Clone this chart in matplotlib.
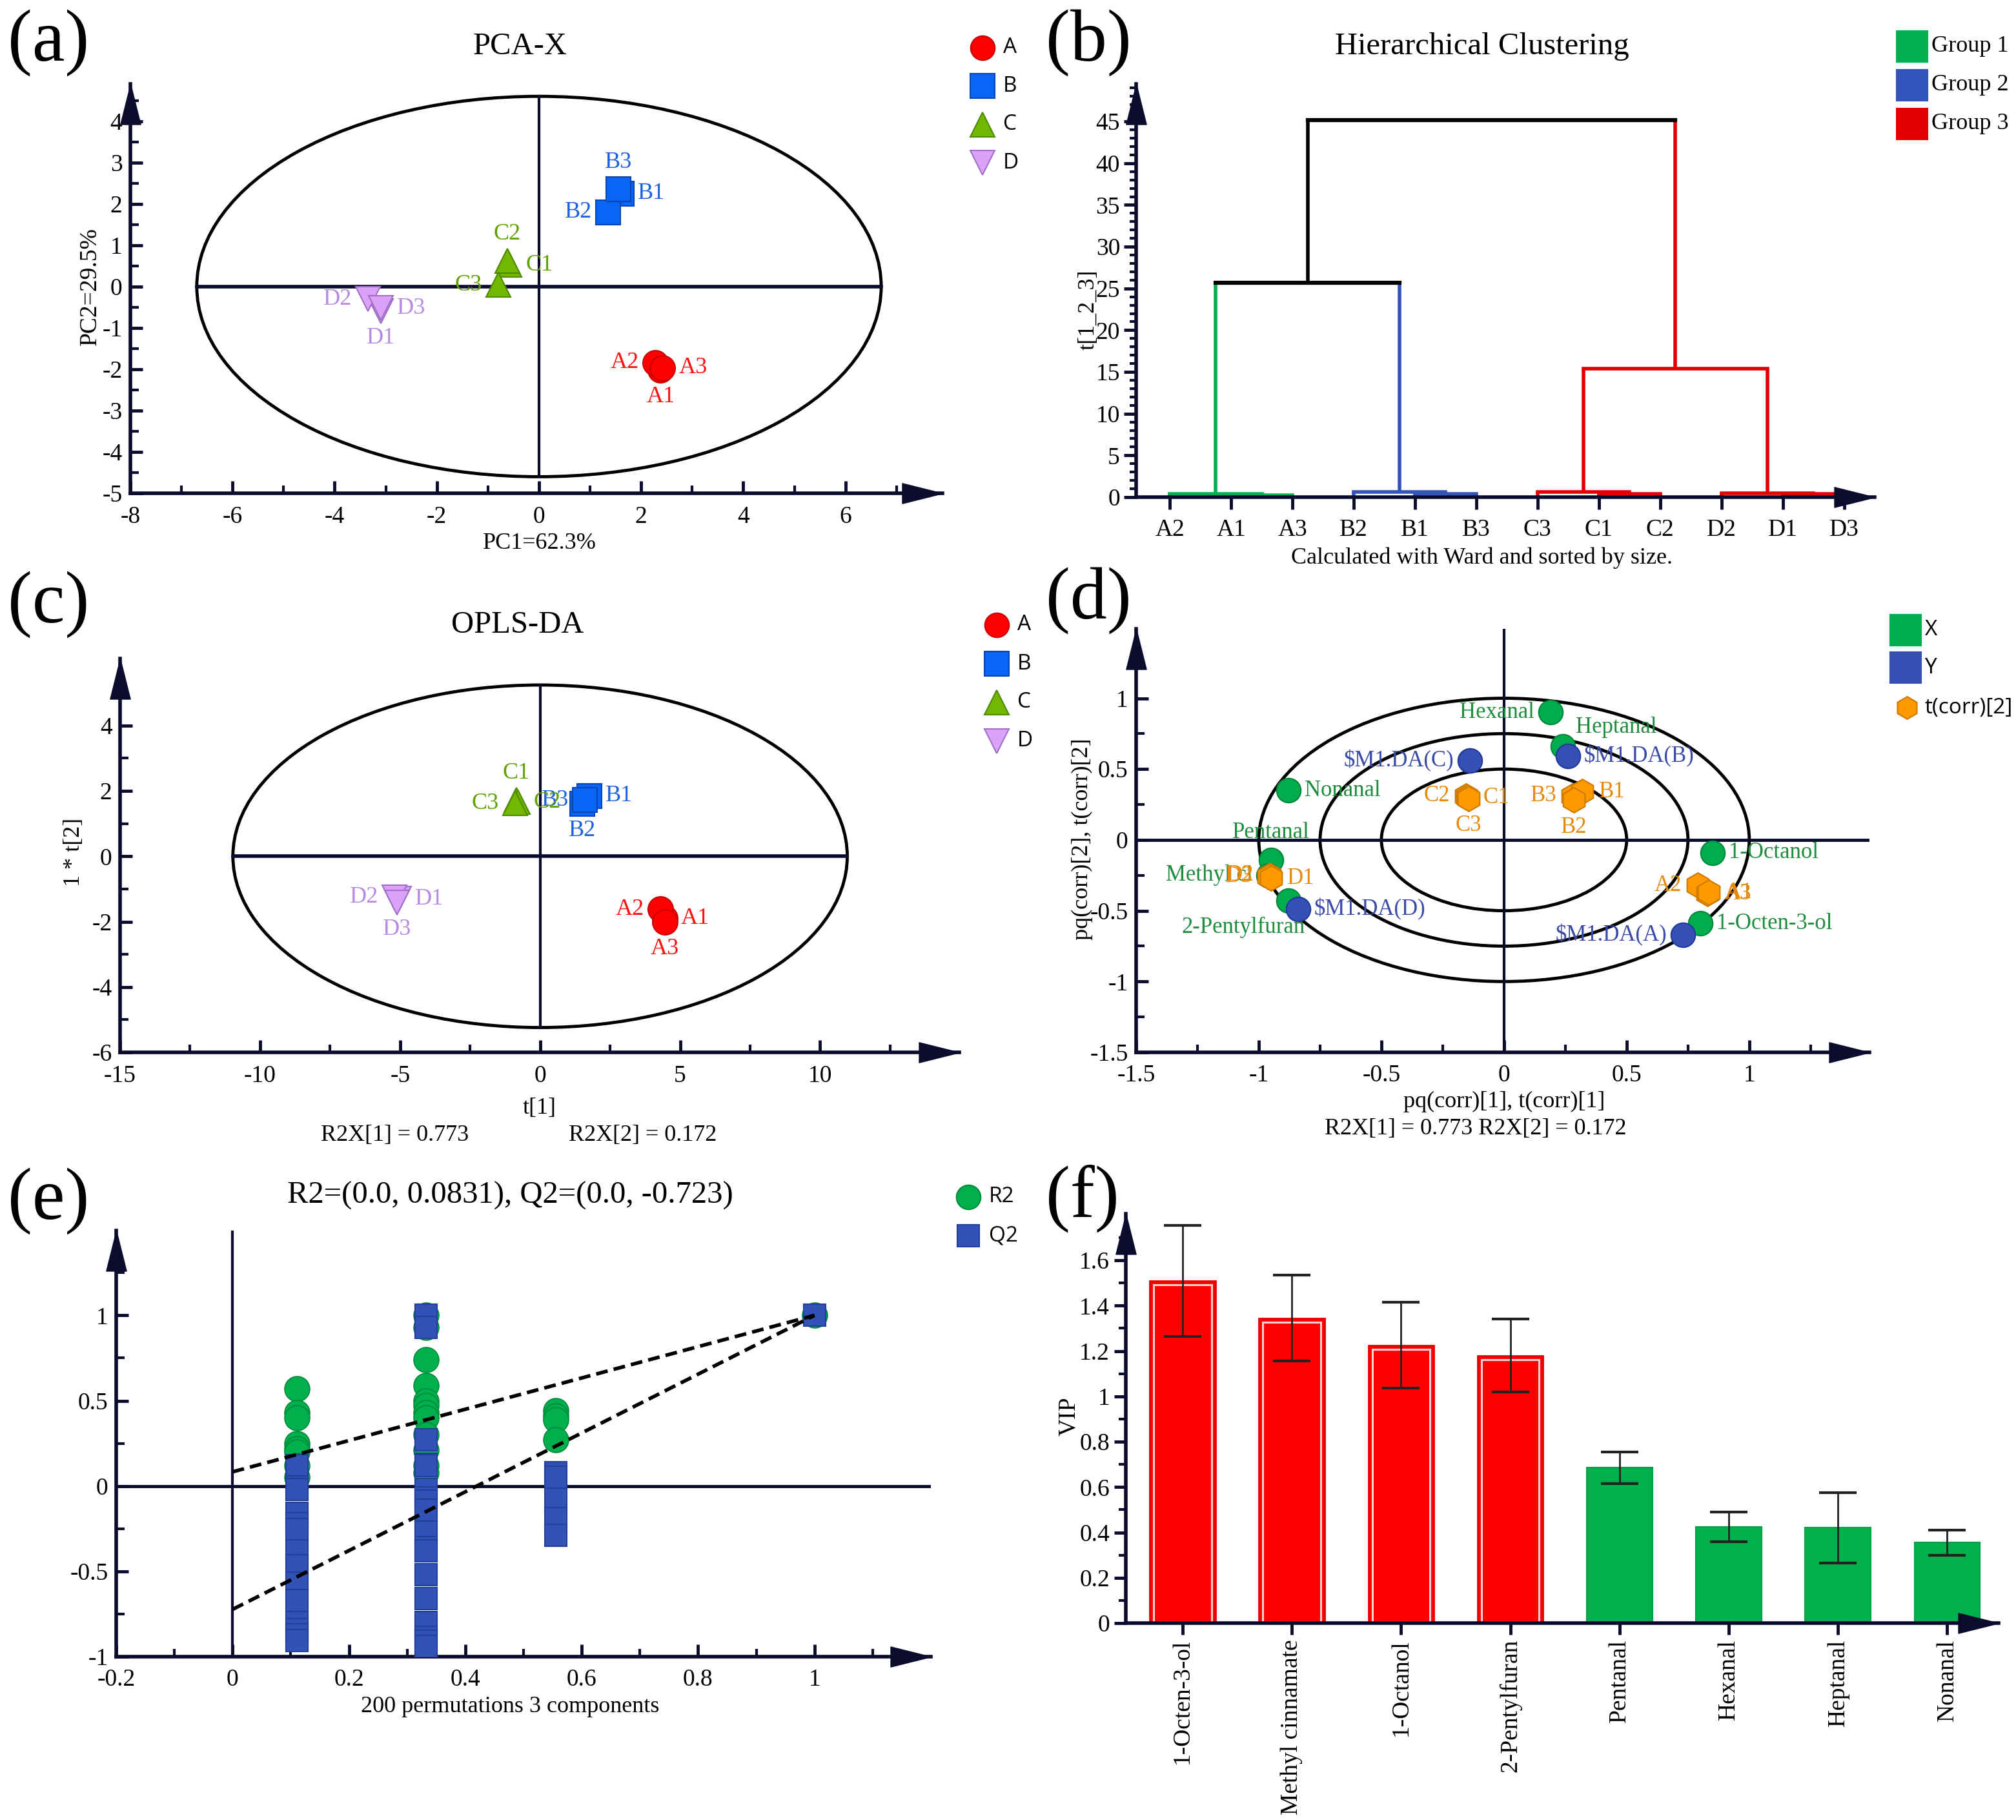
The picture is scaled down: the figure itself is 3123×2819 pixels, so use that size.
import numpy as np
import matplotlib
matplotlib.use('Agg')
import matplotlib.pyplot as plt
from matplotlib.patches import Ellipse
from matplotlib.lines import Line2D
from matplotlib.path import Path
from matplotlib.ticker import FixedLocator, FuncFormatter

# ======================= DATA =======================
# (a) PCA-X scores
pca_labels = ['A1', 'A2', 'A3', 'B1', 'B2', 'B3', 'C1', 'C2', 'C3', 'D1', 'D2', 'D3']
pca_t1 = [2.38, 2.27, 2.42, 1.62, 1.35, 1.55, -0.58, -0.62, -0.80, -3.10, -3.35, -3.10]
pca_t2 = [-2.02, -1.84, -1.97, 2.25, 1.80, 2.35, 0.52, 0.62, 0.04, -0.60, -0.30, -0.52]
pca_lab_side = ['b', 'l', 'r', 'r', 'l', 'a', 'r', 'a', 'l', 'b', 'l', 'r']
pca_ellipse = (6.7, 4.6)

# (b) hierarchical clustering
leaves = ['A2', 'A1', 'A3', 'B2', 'B1', 'B3', 'C3', 'C1', 'C2', 'D2', 'D1', 'D3']
merges = [('A1', 'A3', 0.25), ('A2', 'm0', 0.40),
          ('B1', 'B3', 0.35), ('B2', 'm2', 0.60),
          ('C1', 'C2', 0.35), ('C3', 'm4', 0.60),
          ('D1', 'D3', 0.35), ('D2', 'm6', 0.50),
          ('m1', 'm3', 25.7), ('m5', 'm7', 15.4), ('m8', 'm9', 45.2)]
merge_group = [1, 1, 2, 2, 3, 3, 3, 3, 0, 3, 0]
leaf_group = {'A': 1, 'B': 2, 'C': 3, 'D': 3}

# (c) OPLS-DA scores
opls_labels = ['A1', 'A2', 'A3', 'B1', 'B2', 'B3', 'C1', 'C2', 'C3', 'D1', 'D2', 'D3']
opls_t1 = [4.45, 4.30, 4.45, 1.75, 1.50, 1.60, -0.85, -0.80, -0.90, -5.05, -5.20, -5.10]
opls_t2 = [-1.90, -1.62, -2.00, 1.85, 1.60, 1.72, 1.72, 1.66, 1.62, -1.30, -1.25, -1.42]
opls_lab_side = ['r', 'l', 'b', 'r', 'b', 'l', 'a', 'r', 'l', 'r', 'l', 'b']
opls_ellipse = (10.97, 5.24)

# (d) biplot
var_names = ['Hexanal', 'Heptanal', 'Nonanal', 'Pentanal', 'Methyl ci', '2-Pentylfuran',
             '1-Octanol', '1-Octen-3-ol']
var_p1 = [0.19, 0.24, -0.88, -0.95, -0.96, -0.88, 0.85, 0.80]
var_p2 = [0.90, 0.66, 0.35, -0.14, -0.25, -0.43, -0.09, -0.59]
var_side = ['l', 'ar', 'r', 'a', 'l', 'bl', 'r', 'r']
y_names = ['$M1.DA(C)', '$M1.DA(B)', '$M1.DA(D)', '$M1.DA(A)']
y_p1 = [-0.14, 0.26, -0.84, 0.73]
y_p2 = [0.56, 0.59, -0.49, -0.67]
y_side = ['l', 'r', 'r', 'l']
tc_names = ['C2', 'C1', 'C3', 'B3', 'B1', 'B2', 'D2', 'D3', 'D1', 'A2', 'A3', 'A1']
tc_1 = [-0.155, -0.15, -0.145, 0.28, 0.32, 0.285, -0.955, -0.96, -0.95, 0.79, 0.83, 0.835]
tc_2 = [0.31, 0.30, 0.29, 0.31, 0.34, 0.28, -0.25, -0.26, -0.27, -0.32, -0.38, -0.37]
tc_side = ['l', 'r', 'b', 'l', 'r', 'b', 'l', 'l', 'r', 'l', 'r', 'r']
circle_radii = [0.5, 0.75, 1.0]

# (e) permutation test
perm_corr = [0.111, 0.333, 0.556]
r2_perm = [[0.57, 0.43, 0.40, 0.25, 0.22, 0.20, 0.12, 0.05],
           [1.0, 0.93, 0.74, 0.59, 0.50, 0.47, 0.43, 0.40, 0.30, 0.21, 0.12, 0.08],
           [0.44, 0.41, 0.39, 0.27]]
q2_perm = [[0.12, -0.006, -0.02, -0.16, -0.22, -0.255, -0.38, -0.465, -0.57, -0.67, -0.80,
            -0.84, -0.87, -0.905],
           [1.0, 0.93, 0.27, 0.127, 0.12, -0.02, -0.07, -0.09, -0.14, -0.27, -0.36, -0.38,
            -0.52, -0.66, -0.80, -0.885, -0.91, -0.94],
           [0.08, 0.05, -0.076, -0.19, -0.29]]
r2_orig, q2_orig = 1.0, 1.0
r2_intercept, q2_intercept = 0.0831, -0.723

# (f) VIP
vip_names = ['1-Octen-3-ol', 'Methyl cinnamate', '1-Octanol', '2-Pentylfuran',
             'Pentanal', 'Hexanal', 'Heptanal', 'Nonanal']
vip_mean = [1.51, 1.345, 1.225, 1.18, 0.685, 0.425, 0.42, 0.355]
vip_err = [0.245, 0.19, 0.19, 0.16, 0.07, 0.065, 0.155, 0.055]

# ======================= STYLE =======================
W, H = 3123, 2819
plt.rcParams['font.family'] = ['Liberation Serif', 'DejaVu Serif']
plt.rcParams['axes.unicode_minus'] = False
SANS = ['Open Sans', 'DejaVu Sans']
NAVY = '#0b0b2e'
fig = plt.figure(figsize=(W / 100, H / 100), dpi=100)


def fx(x):
    return 2 * x / W


def fy(y):
    return 1 - 2 * y / H


def add_axes(x0, y0, x1, y1):
    return fig.add_axes([fx(x0), fy(y1), fx(x1) - fx(x0), fy(y0) - fy(y1)])


ARROW_R = Path([(0, 0), (-1, 0.25), (-1, -0.25), (0, 0)], [1, 2, 2, 79])
ARROW_U = Path([(0, 0), (0.25, -1), (-0.25, -1), (0, 0)], [1, 2, 2, 79])
gfmt = FuncFormatter(lambda v, p: '0' if abs(v) < 1e-9 else f'{round(v, 6):g}')


def base_axes(ax, xlim, ylim, direction, xmaj, xmin, ymaj, ymin,
              xpad=14, ypad=8, tl=(14, 9), labelsize=27):
    ax.set_xlim(*xlim)
    ax.set_ylim(*ylim)
    ax.patch.set_visible(False)
    for s in ('top', 'right'):
        ax.spines[s].set_visible(False)
    for s in ('left', 'bottom'):
        ax.spines[s].set_linewidth(4)
        ax.spines[s].set_color(NAVY)
    if xmaj is not None:
        ax.xaxis.set_major_locator(FixedLocator(xmaj))
        ax.xaxis.set_major_formatter(gfmt)
    if xmin is not None:
        ax.xaxis.set_minor_locator(FixedLocator(xmin))
    if ymaj is not None:
        ax.yaxis.set_major_locator(FixedLocator(ymaj))
        ax.yaxis.set_major_formatter(gfmt)
    if ymin is not None:
        ax.yaxis.set_minor_locator(FixedLocator(ymin))
    ax.tick_params(which='major', direction=direction, length=tl[0], width=3.5,
                   color=NAVY, labelsize=labelsize)
    ax.tick_params(which='minor', direction=direction, length=tl[1], width=3, color=NAVY)
    ax.tick_params(axis='x', which='both', pad=xpad)
    ax.tick_params(axis='y', which='both', pad=ypad)
    ax.plot([1], [0], marker=ARROW_R, ms=90, color=NAVY, transform=ax.transAxes,
            clip_on=False, zorder=10)
    ax.plot([0], [1], marker=ARROW_U, ms=90, color=NAVY, transform=ax.transAxes,
            clip_on=False, zorder=10)


def legend_item(x, y, tx, marker, ms, fc, ec, text, family=SANS, size=23):
    fig.add_artist(Line2D([fx(x)], [fy(y)], marker=marker, ms=ms, mfc=fc, mec=ec, mew=1.5,
                          ls='none', transform=fig.transFigure))
    fig.text(fx(tx), fy(y), text, ha='left', va='center', family=family, fontsize=size)


OFFS = {'l': ((-18, 0), 'right', 'center'), 'r': ((18, 0), 'left', 'center'),
        'a': ((0, 30), 'center', 'center'), 'b': ((0, -30), 'center', 'center'),
        'ar': ((14, 21), 'left', 'center'), 'bl': ((19, -30), 'right', 'center')}


def label(ax, text, x, y, side, color, size=26):
    (dx, dy), ha, va = OFFS[side]
    ax.annotate(text, (x, y), xytext=(dx, dy), textcoords='offset points', ha=ha, va=va,
                color=color, fontsize=size, zorder=2)


GROUP = {'A': ('o', '#ff0000', '#c80000', '#ff1010'),
         'B': ('s', '#0a64f5', '#0846b4', '#1a5fe0'),
         'C': ('^', '#72b800', '#4e8a00', '#5ea000'),
         'D': ('v', '#dba2f8', '#a070c8', '#b88ae0')}


def score_plot(ax, labels, t1, t2, sides, ell, ms=28):
    a, b = ell
    ax.add_patch(Ellipse((0, 0), 2 * a, 2 * b, fill=False, lw=3.5, ec='black', zorder=1))
    ax.plot([-a, a], [0, 0], color=NAVY, lw=4, zorder=1)
    ax.plot([0, 0], [-b, b], color=NAVY, lw=3, zorder=1)
    for lab, x, y, s in zip(labels, t1, t2, sides):
        m, fc, ec, tc = GROUP[lab[0]]
        ax.plot([x], [y], marker=m, ms=ms, mfc=fc, mec=ec, mew=1.5, ls='none', zorder=3)
        label(ax, lab, x, y, s, tc)


def title(x, y, text, size=35):
    fig.text(fx(x), fy(y), text, ha='center', va='center', fontsize=size)


def letter(x, y, text):
    fig.text(fx(x), fy(y), text, ha='left', va='center', fontsize=82)


# ======================= (a) =======================
ax = add_axes(101, 65, 730, 382)
base_axes(ax, (-8, 7.9), (-5, 4.9), 'in', np.arange(-8, 7, 2), np.arange(-7, 8, 2),
          np.arange(-5, 5, 1), np.arange(-4.5, 5, 1), xpad=14, ypad=9)
score_plot(ax, pca_labels, pca_t1, pca_t2, pca_lab_side, pca_ellipse)
letter(6, 33, '(a)')
title(403, 36, 'PCA-X')
fig.text(fx(70), fy(222), 'PC2=29.5%', rotation=90, ha='center', va='center', fontsize=27)
fig.text(fx(418), fy(421), 'PC1=62.3%', ha='center', va='center', fontsize=26)
for i, g in enumerate('ABCD'):
    m, fc, ec, tc = GROUP[g]
    legend_item(761, 37 + i * 29.7, 777, m, 27, fc, ec, g, size=24)

# ======================= (b) =======================
ax = add_axes(880, 65, 1452, 385)
base_axes(ax, (-0.55, 11.5), (0, 49.5), 'out', list(range(len(leaves))), [],
          np.arange(0, 46, 5), np.arange(0, 50, 1), xpad=10, ypad=4, tl=(14, 7))
ax.set_xticklabels(leaves)
gcol = {0: 'black', 1: '#00b050', 2: '#3355bb', 3: '#e00000'}
pos = {n: i for i, n in enumerate(leaves)}
hgt = {n: 0.0 for n in leaves}
col = {n: gcol[leaf_group[n[0]]] for n in leaves}
for k, (l, r, h) in enumerate(merges):
    c = gcol[merge_group[k]]
    ax.plot([pos[l], pos[l]], [hgt[l], h], color=col[l], lw=4, solid_capstyle='butt', zorder=2)
    ax.plot([pos[r], pos[r]], [hgt[r], h], color=col[r], lw=4, solid_capstyle='butt', zorder=2)
    ax.plot([pos[l], pos[r]], [h, h], color=c, lw=4.5 if merge_group[k] == 0 else 4,
            solid_capstyle='projecting', zorder=2)
    name = f'm{k}'
    pos[name] = (pos[l] + pos[r]) / 2
    hgt[name] = h
    col[name] = c
letter(810, 33, '(b)')
title(1148, 36, 'Hierarchical Clustering')
fig.text(fx(843), fy(240), 't[1_2_3]', rotation=90, ha='center', va='center', fontsize=26)
fig.text(fx(1148), fy(432), 'Calculated with Ward and sorted by size.', ha='center',
         va='center', fontsize=26)
for i, g in enumerate([1, 2, 3]):
    legend_item(1481, 36 + i * 30, 1496, 's', 35, gcol[g], gcol[g], f'Group {g}',
                family=['Liberation Serif'], size=26)

# ======================= (c) =======================
ax = add_axes(93, 510, 743, 815)
base_axes(ax, (-15, 14.97), (-6, 6.05), 'in', np.arange(-15, 11, 5), np.arange(-12.5, 13, 5),
          np.arange(-6, 5, 2), np.arange(-5, 6, 2), xpad=14, ypad=9)
score_plot(ax, opls_labels, opls_t1, opls_t2, opls_lab_side, opls_ellipse)
letter(6, 468, '(c)')
title(401, 484, 'OPLS-DA')
fig.text(fx(57), fy(660), '1 * t[2]', rotation=90, ha='center', va='center', fontsize=26)
fig.text(fx(418), fy(858), 't[1]', ha='center', va='center', fontsize=26)
fig.text(fx(306), fy(879), 'R2X[1] = 0.773', ha='center', va='center', fontsize=26)
fig.text(fx(498), fy(879), 'R2X[2] = 0.172', ha='center', va='center', fontsize=26)
for i, g in enumerate('ABCD'):
    m, fc, ec, tc = GROUP[g]
    legend_item(772, 484 + i * 30, 788, m, 27, fc, ec, g, size=24)

# ======================= (d) =======================
ax = add_axes(880, 487, 1448, 815)
base_axes(ax, (-1.5, 1.49), (-1.5, 1.49), 'in', np.arange(-1.5, 1.1, 0.5),
          np.arange(-1.25, 1.3, 0.5), np.arange(-1.5, 1.1, 0.5), np.arange(-1.25, 1.3, 0.5),
          xpad=13, ypad=9)
for r in circle_radii:
    ax.add_patch(Ellipse((0, 0), 2 * r, 2 * r, fill=False, lw=3.5, ec='black', zorder=1))
ax.axhline(0, color=NAVY, lw=3.5, zorder=1)
ax.axvline(0, color=NAVY, lw=3, zorder=1)
GX = ('#00ac4c', '#00873a', '#1e8c3c')
GY = ('#3450b4', '#22399a', '#3a4aa8')
GT = ('#ff9900', '#cc7a00', '#e8880a')
for n, x, y, s in zip(var_names, var_p1, var_p2, var_side):
    ax.plot([x], [y], 'o', ms=27, mfc=GX[0], mec=GX[1], mew=1.5, zorder=3)
    label(ax, n, x, y, s, GX[2], size=25)
for n, x, y, s in zip(tc_names, tc_1, tc_2, tc_side):
    ax.plot([x], [y], 'h', ms=28, mfc=GT[0], mec=GT[1], mew=1.5, zorder=4)
    label(ax, n, x, y, s, GT[2], size=25)
for n, x, y, s in zip(y_names, y_p1, y_p2, y_side):
    ax.plot([x], [y], 'o', ms=27, mfc=GY[0], mec=GY[1], mew=1.5, zorder=5)
    label(ax, n, x, y, s, GY[2], size=25)
letter(810, 465, '(d)')
fig.text(fx(838), fy(650), 'pq(corr)[2], t(corr)[2]', rotation=90, ha='center', va='center',
         fontsize=26)
fig.text(fx(1165), fy(853), 'pq(corr)[1], t(corr)[1]', ha='center', va='center', fontsize=26)
fig.text(fx(1143), fy(874), 'R2X[1] = 0.773 R2X[2] = 0.172', ha='center', va='center',
         fontsize=26)
legend_item(1476, 488, 1491, 's', 35, GX[0], GX[0], 'X', size=24)
legend_item(1476, 517, 1491, 's', 35, GY[0], GY[0], 'Y', size=24)
legend_item(1477, 548, 1491, 'h', 25, GT[0], GT[1], 't(corr)[2]', size=24)

# ======================= (e) =======================
ax = add_axes(90, 953, 721, 1283)
base_axes(ax, (-0.2, 1.2), (-1, 1.497), 'in', np.arange(-0.2, 1.05, 0.2),
          np.arange(-0.1, 1.15, 0.2), np.arange(-1, 1.05, 0.5), np.arange(-0.75, 1.3, 0.5),
          xpad=13, ypad=9)
ax.axhline(0, color=NAVY, lw=3.5, zorder=1)
ax.axvline(0, color=NAVY, lw=3, zorder=1)
R2C = ('#00b04c', '#008a3a')
Q2C = ('#3352b8', '#233f99')
for cx, vals in zip(perm_corr, r2_perm):
    ax.plot([cx] * len(vals), vals, 'o', ms=28, mfc=R2C[0], mec=R2C[1], mew=1.2, ls='none',
            zorder=2)
ax.plot([1.0], [r2_orig], 'o', ms=28, mfc=R2C[0], mec=R2C[1], mew=1.2, zorder=2)
for cx, vals in zip(perm_corr, q2_perm):
    ax.plot([cx] * len(vals), vals, 's', ms=25, mfc=Q2C[0], mec=Q2C[1], mew=1.5, ls='none',
            zorder=3)
ax.plot([1.0], [q2_orig], 's', ms=25, mfc=Q2C[0], mec=Q2C[1], mew=1.5, zorder=3)
ax.plot([0, 1], [r2_intercept, r2_orig], color='black', lw=4, dashes=(3.3, 1.7), zorder=4)
ax.plot([0, 1], [q2_intercept, q2_orig], color='black', lw=4, dashes=(3.3, 1.7), zorder=4)
letter(6, 930, '(e)')
title(395, 926, f'R2=(0.0, {r2_intercept}), Q2=(0.0, {q2_intercept})')
fig.text(fx(395), fy(1322), '200 permutations 3 components', ha='center', va='center',
         fontsize=26)
legend_item(750, 927, 766, 'o', 27, R2C[0], R2C[1], 'R2', size=24)
legend_item(750, 957, 766, 's', 25, Q2C[0], Q2C[1], 'Q2', size=24)

# ======================= (f) =======================
ax = add_axes(872, 940, 1548, 1257)
base_axes(ax, (-0.52, 7.47), (0, 1.805), 'out', list(range(len(vip_names))), [],
          np.arange(0, 1.65, 0.2), np.arange(0.1, 1.75, 0.2), xpad=5, ypad=5, tl=(13, 8))
xs = np.arange(len(vip_names))
for x, v in zip(xs, vip_mean):
    if v > 1:
        ax.bar(x, v, width=0.6, color='#ff0000', edgecolor='#e60000', lw=2, zorder=2)
        ax.bar(x, v - 0.018, width=0.53, fill=False, edgecolor='#ffd0d0', lw=2.2, zorder=2)
    else:
        ax.bar(x, v, width=0.6, color='#00b04c', edgecolor='#00a044', lw=1.5, zorder=2)
ax.errorbar(xs, vip_mean, yerr=vip_err, fmt='none', ecolor='#222222', elinewidth=2,
            capsize=21, capthick=3, zorder=3)
ax.set_xticklabels(vip_names, rotation=90, ha='center', va='top', fontsize=27)
letter(810, 928, '(f)')
fig.text(fx(828), fy(1097), 'VIP', rotation=90, ha='center', va='center', fontsize=27)

fig.savefig('out.png', dpi=100)
